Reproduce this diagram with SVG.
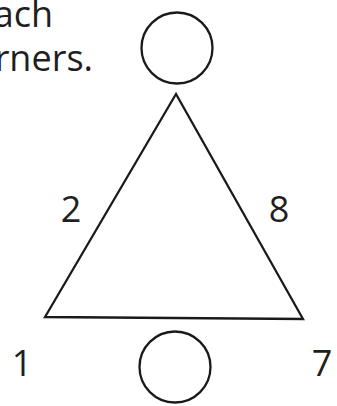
<svg xmlns="http://www.w3.org/2000/svg" width="337" height="406" viewBox="0 0 337 406">
<style>
  .shape { fill: none; stroke: #1a1a1a; stroke-width: 2.3; stroke-linejoin: miter; }
  .lbl { font-family: "Open Sans", "Noto Sans", sans-serif; font-size: 36px; fill: #1f1f1f; }
</style>
<rect width="337" height="406" fill="#ffffff"/>
<g id="instruction">
  <text class="lbl" x="53" y="27" text-anchor="end">ach</text>
  <text class="lbl" x="93" y="71" text-anchor="end">rners.</text>
</g>
<g id="circle-top">
  <circle class="shape" cx="177" cy="48" r="35.5"/>
</g>
<g id="triangle">
  <polygon class="shape" points="176,94 45,317 303,319"/>
</g>
<g id="circle-bottom">
  <circle class="shape" cx="175" cy="367" r="35.5"/>
</g>
<g id="labels">
  <text class="lbl" x="71" y="222" text-anchor="middle">2</text>
  <text class="lbl" x="279" y="222" text-anchor="middle">8</text>
  <text class="lbl" x="22" y="376" text-anchor="middle">1</text>
  <text class="lbl" x="322" y="376" text-anchor="middle">7</text>
</g>
</svg>
